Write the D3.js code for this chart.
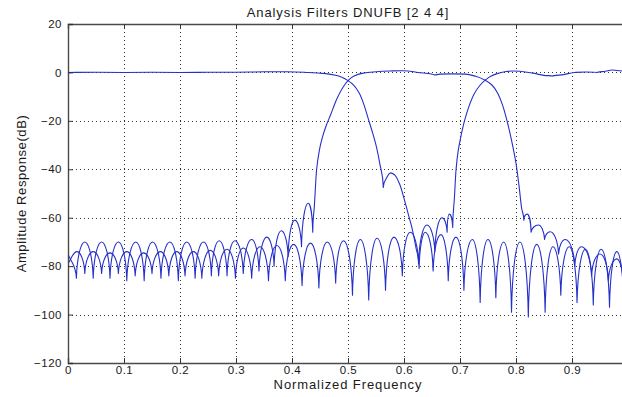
<!DOCTYPE html>
<html><head><meta charset="utf-8">
<script src="https://cdn.jsdelivr.net/npm/d3@7"></script>
<style>
html,body{margin:0;padding:0;background:#fff;}
svg{display:block;}
text{font-family:"Liberation Sans",Arial,sans-serif;fill:#1a1a1a;}
</style></head><body>
<svg id="chart" width="622" height="397"></svg>
<script>
// Labels
const chartTitle = "Analysis Filters DNUFB [2 4 4]";
const xAxisLabel = "Normalized Frequency";
const yAxisLabel = "Amplitude Response(dB)";

// Axis ticks
const freqTicks = [0, 0.1, 0.2, 0.3, 0.4, 0.5, 0.6, 0.7, 0.8, 0.9];
const freqTickLabels = ["0", "0.1", "0.2", "0.3", "0.4", "0.5", "0.6", "0.7", "0.8", "0.9"];
const dbTicks = [-120, -100, -80, -60, -40, -20, 0, 20];

// Filter responses: [normalized frequency, amplitude in dB]
const lowBand = [
  [0.000,0],[0.050,0.05],[0.100,0],[0.150,0.05],[0.200,0],[0.250,0.05],[0.300,0.1],[0.350,0.25],[0.390,0.3],[0.430,0],
  [0.460,-0.5],[0.480,-1.3],[0.490,-2.1],[0.500,-3.4],[0.510,-5.2],[0.520,-8.5],[0.528,-13],[0.536,-19],[0.544,-25],
  [0.551,-31],[0.557,-38],[0.563,-47.5],[0.569,-43.5],[0.576,-41.5],[0.584,-42.5],[0.592,-46],[0.600,-52],[0.607,-58],
  [0.614,-64],[0.621,-72],[0.627,-81],[0.638,-66],[0.652,-82],[0.666,-67],[0.679,-86],[0.693,-68],[0.707,-90],
  [0.722,-69],[0.736,-95],[0.750,-69],[0.764,-93],[0.778,-70],[0.792,-99],[0.807,-70],[0.822,-101],[0.837,-71],
  [0.852,-99],[0.866,-72],[0.880,-92],[0.895,-72],[0.909,-95],[0.924,-73],[0.938,-96],[0.952,-73],[0.967,-97],
  [0.980,-74],[0.993,-98],[1.000,-80]
];
const midBand = [
  [0.000,-75],[0.015,-85],[0.030,-70],[0.045,-85],[0.060,-70],[0.075,-85],[0.090,-70],[0.105,-86],[0.121,-70],
  [0.136,-86],[0.151,-70],[0.166,-85],[0.182,-70],[0.197,-86],[0.212,-70],[0.227,-85],[0.242,-70],[0.256,-84],
  [0.270,-69.5],[0.284,-84],[0.298,-69.5],[0.313,-83],[0.328,-69],[0.341,-82],[0.355,-68],[0.368,-80],[0.381,-65.4],
  [0.393,-76],[0.405,-61],[0.417,-72],[0.429,-54],[0.437,-66],[0.440,-55],[0.444,-40],[0.449,-32],[0.454,-27],
  [0.461,-22],[0.469,-17.5],[0.479,-11.5],[0.490,-6.5],[0.500,-3.4],[0.510,-1.6],[0.525,-0.4],[0.545,0.2],[0.575,0.6],
  [0.598,0.7],[0.625,0],[0.655,-1.1],[0.685,-0.6],[0.710,-0.7],[0.728,-1.6],[0.745,-3.2],[0.757,-5.2],[0.767,-8.5],
  [0.776,-13.5],[0.784,-20],[0.792,-28],[0.800,-37.5],[0.806,-48],[0.810,-56],[0.814,-61],[0.820,-58.5],[0.827,-66],
  [0.840,-63],[0.851,-69],[0.861,-65.8],[0.876,-75],[0.888,-69],[0.905,-80],[0.917,-72],[0.935,-84],[0.950,-75],
  [0.965,-86],[0.980,-77],[0.992,-88],[1.000,-80]
];
const highBand = [
  [0.000,-79],[0.016,-74],[0.030,-83],[0.045,-74],[0.060,-83],[0.075,-74.5],[0.090,-83],[0.105,-74],[0.120,-84],
  [0.135,-74.5],[0.150,-83],[0.165,-74],[0.180,-84],[0.194,-74],[0.209,-84],[0.224,-74],[0.239,-85],[0.254,-73.5],
  [0.269,-84],[0.284,-73],[0.299,-85],[0.313,-72.5],[0.328,-85],[0.343,-72],[0.358,-86],[0.373,-71.5],[0.388,-86],
  [0.403,-71],[0.418,-88],[0.433,-70.5],[0.448,-89],[0.463,-70],[0.478,-87],[0.492,-69.5],[0.508,-92],[0.522,-69],
  [0.537,-94],[0.552,-68.5],[0.567,-90],[0.582,-68],[0.597,-84],[0.611,-66],[0.626,-79],[0.641,-63],[0.655,-74],
  [0.668,-60],[0.677,-66],[0.681,-58.5],[0.687,-64],[0.690,-52],[0.693,-40],[0.697,-32],[0.702,-26],[0.708,-20],
  [0.716,-14],[0.725,-9],[0.735,-5.5],[0.745,-3.2],[0.755,-1.6],[0.765,-0.6],[0.780,0.3],[0.795,0.6],[0.810,0.4],
  [0.830,-0.3],[0.850,-1.2],[0.865,-1.5],[0.885,-0.9],[0.905,0],[0.925,0.2],[0.945,0],[0.960,0.5],[0.972,1],
  [0.985,0.7],[1.000,0.4]
];

// Curve that keeps response nulls sharp and lobe tops rounded
function ArchCurve(ctx) { this._context = ctx; }
ArchCurve.prototype = {
  areaStart() { this._line = 0; },
  areaEnd() { this._line = NaN; },
  lineStart() { this._pts = []; },
  point(x, y) { this._pts.push([+x, +y]); },
  lineEnd() {
    const p = this._pts, n = p.length, c = this._context;
    if (!n) return;
    const kind = p.map((q, i) => {
      if (i === 0 || i === n - 1) return "mid";
      if (q[1] > p[i-1][1] && q[1] > p[i+1][1]) return "null";
      if (q[1] < p[i-1][1] && q[1] < p[i+1][1]) return "peak";
      return "mid";
    });
    const slope = p.map((q, i) => {
      if (i === 0) return (p[1][1] - q[1]) / (p[1][0] - q[0]);
      if (i === n - 1) return (q[1] - p[i-1][1]) / (q[0] - p[i-1][0]);
      const s0 = (q[1] - p[i-1][1]) / (q[0] - p[i-1][0]);
      const s1 = (p[i+1][1] - q[1]) / (p[i+1][0] - q[0]);
      if (s0 * s1 <= 0) return 0;
      return 2 / (1 / s0 + 1 / s1);
    });
    c.moveTo(p[0][0], p[0][1]);
    for (let i = 0; i < n - 1; i++) {
      const [x0, y0] = p[i], [x1, y1] = p[i+1], dx = x1 - x0;
      let c1x, c1y, c2x, c2y;
      if (kind[i] === "peak") { c1x = x0 + dx * 0.45; c1y = y0; }
      else if (kind[i] === "null") { c1x = x0 + dx * 0.08; c1y = y0 + (y1 - y0) * 0.6; }
      else { c1x = x0 + dx / 3; c1y = y0 + slope[i] * dx / 3; }
      if (kind[i+1] === "peak") { c2x = x1 - dx * 0.45; c2y = y1; }
      else if (kind[i+1] === "null") { c2x = x1 - dx * 0.08; c2y = y1 + (y0 - y1) * 0.6; }
      else { c2x = x1 - dx / 3; c2y = y1 - slope[i+1] * dx / 3; }
      c.bezierCurveTo(c1x, c1y, c2x, c2y, x1, y1);
    }
  }
};
const curveArch = ctx => new ArchCurve(ctx);

const svg = d3.select("#chart");
const plot = { left: 68, right: 628, top: 24, bottom: 363 };

const x = d3.scaleLinear().domain([0, 1]).range([plot.left, plot.right]);
const y = d3.scaleLinear().domain([-120, 20]).range([plot.bottom, plot.top]);

svg.append("rect").attr("width", 622).attr("height", 397).attr("fill", "#fff");

svg.append("defs").append("clipPath").attr("id", "plotClip")
  .append("rect").attr("x", plot.left).attr("y", plot.top)
  .attr("width", plot.right - plot.left).attr("height", plot.bottom - plot.top);

// Dotted grid
const grid = svg.append("g").attr("stroke", "#333").attr("stroke-width", 1)
  .attr("stroke-dasharray", "1,3");
grid.selectAll("line.gx").data(freqTicks.filter(d => d > 0)).join("line")
  .attr("x1", d => Math.round(x(d)) + 0.5).attr("x2", d => Math.round(x(d)) + 0.5)
  .attr("y1", plot.top).attr("y2", plot.bottom);
grid.selectAll("line.gy").data(dbTicks.filter(d => d > -120 && d < 20)).join("line")
  .attr("y1", d => Math.round(y(d)) + 0.5).attr("y2", d => Math.round(y(d)) + 0.5)
  .attr("x1", plot.left).attr("x2", plot.right);

// Filter curves
const line = d3.line().x(d => x(d[0])).y(d => y(d[1])).curve(curveArch);
const curves = svg.append("g").attr("clip-path", "url(#plotClip)");
[highBand, midBand, lowBand].forEach(series => {
  curves.append("path").datum(series).attr("d", line)
    .attr("fill", "none").attr("stroke", "#2530c8").attr("stroke-width", 1.1)
    .attr("stroke-linejoin", "round");
});

// Axes with inward ticks (box style)
const tickLen = 5;
const xBottom = svg.append("g").attr("transform", `translate(0,${plot.bottom})`)
  .call(d3.axisBottom(x).tickValues(freqTicks).tickSize(-tickLen).tickPadding(3)
    .tickFormat((d, i) => freqTickLabels[i]));
const xTop = svg.append("g").attr("transform", `translate(0,${plot.top})`)
  .call(d3.axisTop(x).tickValues(freqTicks).tickSize(-tickLen).tickFormat(""));
const yLeft = svg.append("g").attr("transform", `translate(${plot.left},0)`)
  .call(d3.axisLeft(y).tickValues(dbTicks).tickSize(-tickLen).tickPadding(6));
const yRight = svg.append("g").attr("transform", `translate(${plot.right},0)`)
  .call(d3.axisRight(y).tickValues(dbTicks).tickSize(-tickLen).tickFormat(""));

[xBottom, xTop, yLeft, yRight].forEach(g => {
  g.select(".domain").attr("stroke", "#4a4a4a").attr("stroke-width", 1.4);
  g.selectAll(".tick line").attr("stroke", "#333").attr("stroke-width", 1);
  g.selectAll(".tick text").attr("fill", "#1a1a1a")
    .style("font-family", "\"Liberation Sans\", Arial, sans-serif")
    .style("font-size", "11.5px").style("letter-spacing", "0.5px");
});

// Titles
svg.append("text").attr("x", (plot.left + plot.right) / 2).attr("y", 17)
  .attr("text-anchor", "middle").style("font-size", "13px").style("letter-spacing", "0.9px")
  .text(chartTitle);
svg.append("text").attr("x", (plot.left + plot.right) / 2).attr("y", 389)
  .attr("text-anchor", "middle").style("font-size", "13px").style("letter-spacing", "0.9px")
  .text(xAxisLabel);
svg.append("text").attr("transform", `translate(26,${(plot.top + plot.bottom) / 2}) rotate(-90)`)
  .attr("text-anchor", "middle").style("font-size", "13px").style("letter-spacing", "0.6px")
  .text(yAxisLabel);
</script>
</body></html>
